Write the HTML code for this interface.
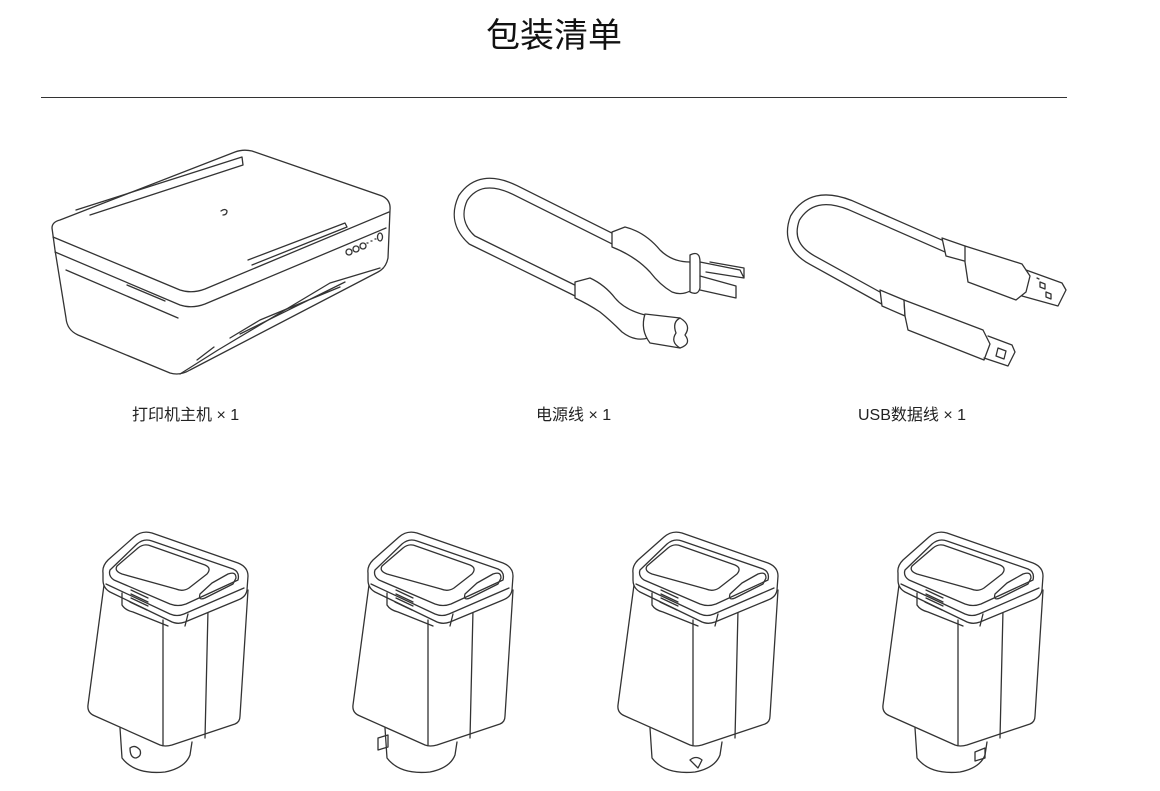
<!DOCTYPE html>
<html><head><meta charset="utf-8"><style>
html,body{margin:0;padding:0;background:#fff;}
body{width:1160px;height:791px;position:relative;overflow:hidden;font-family:"Liberation Sans","Noto Sans CJK SC",sans-serif;color:#222;}
.t{position:absolute;white-space:nowrap;}
</style></head><body>
<div class="t" style="left:0;width:1108px;top:8px;text-align:center;font-size:34px;font-weight:400;font-family:'Noto Sans CJK SC',sans-serif;color:#111;">包装清单</div>
<div style="position:absolute;left:41px;top:97px;width:1026px;height:1px;background:#333;"></div>
<div class="t" style="left:132px;top:401px;font-size:16px;">打印机主机 × 1</div>
<div class="t" style="left:536px;top:401px;font-size:16px;">电源线 × 1</div>
<div class="t" style="left:858px;top:401px;font-size:16px;">USB数据线 × 1</div>
<svg width="1160" height="791" style="position:absolute;left:0;top:0" fill="none" stroke="#333" stroke-width="1.3" stroke-linejoin="round" stroke-linecap="round">
<defs>
<g id="cart">
<path d="M104,585 L88,705 Q87,713 95,716 L160,745 Q165,747 172,745 L235,724 Q240,722 240,716 L248,590" fill="#fff"/>
<path d="M120,728 L122,758 Q135,775 165,772 Q185,768 190,755 L192,742"/>
<path d="M163,745 L163,620 M205,738 L208,610"/>
<path d="M103,573 Q102,566 108,560 L134,537 Q142,530 152,533 L238,563 Q248,567 248,576 L247,590 Q246,597 238,600 L185,622 Q177,625 170,621 L110,592 Q103,588 103,580 Z" fill="#fff"/>
<path d="M106,584 L170,614 Q177,617 184,614 L244,588"/>
<path d="M110,570 L137,544 Q144,538 152,541 L233,569 Q240,572 238,580 L186,604 Q178,607 170,604 L114,580 Q108,576 110,570 Z"/>
<path d="M117,566 L138,548 Q144,543 151,546 L205,565 Q212,568 207,574 L189,588 Q183,592 176,589 L122,574 Q114,571 117,566 Z"/>
<path d="M212,583 L228,574 Q236,571 236,578 L233,584 L205,598 Q198,601 200,594 Z"/>
<path d="M131,590 L148,598 M131,594 L148,602 M131,598 L148,606 M130,602 L147,610"/>
<path d="M122,593 L122,605 Q125,610 133,612 L168,626 M185,626 L188,614"/>
</g>
</defs>
<use href="#cart"/>
<use href="#cart" transform="translate(265,0)"/>
<use href="#cart" transform="translate(530,0)"/>
<use href="#cart" transform="translate(795,0)"/>
<path d="M130,748 q5,-4 10,2 q2,6 -4,8 q-6,0 -6,-10" />
<path d="M378,738 l10,-3 l0,12 l-10,3 z"/>
<path d="M690,760 q6,-5 12,0 l-4,8 z"/>
<path d="M975,752 l10,-4 l0,10 l-10,3 z"/>

<path d="M52,228 Q52,222 60,220 L235,152 Q243,149 252,151 L382,196 Q391,200 390,210 L388,258 Q386,268 378,272 L190,370 Q180,376 170,373 L78,335 Q67,330 66,318 L55,250 Z" fill="#fff"/>
<path d="M53,237 L180,290 Q192,294 205,289 L389,212"/>
<path d="M55,252 L180,305 Q192,309 205,304 L386,228"/>
<path d="M66,270 L178,318"/>
<path d="M76,210 L242,157 L243,165 L90,215"/>
<path d="M248,260 L345,223 L347,227 L252,265"/>
<path d="M127,285 L165,301"/>
<path d="M380,268 L330,283 L218,350 L180,374"/>
<path d="M340,287 L260,320 L230,338 M345,282 L240,334"/>
<path d="M197,360 L214,347"/>
<circle cx="349" cy="252" r="3"/><circle cx="356" cy="249" r="3"/><circle cx="363" cy="246" r="3"/>
<path d="M367,243 l1,0 M371,241 l1,0 M375,239 l1,0"/>
<ellipse cx="380" cy="237" rx="2.5" ry="4"/>
<path d="M221,211 q4,-3 6,0 q0,4 -4,4"/>

<path d="M615,240 L515,190 Q480,173 463,198 Q452,222 472,240 L578,292" stroke="#333" stroke-width="11"/>
<path d="M615,240 L515,190 Q480,173 463,198 Q452,222 472,240 L578,292" stroke="#fff" stroke-width="8.4"/>
<path d="M612,232 L625,227 Q645,232 660,250 Q672,262 690,262 L692,290 Q682,296 672,292 Q660,285 650,272 Q635,256 612,247 Z" fill="#fff"/>
<path d="M690,255 Q700,250 700,262 L700,288 Q698,296 690,292 Z" fill="#fff"/>
<path d="M700,262 L740,270 L744,278 L706,272 M700,276 L736,286 L736,298 L700,290 M744,278 L744,268 L710,262"/>
<path d="M575,282 L590,278 Q605,285 615,298 Q625,310 645,315 L648,338 Q635,342 622,332 Q610,320 600,312 Q588,304 575,298 Z" fill="#fff"/>
<path d="M645,314 L680,318 Q692,325 685,335 Q692,344 680,348 L650,343 Q640,330 645,314" fill="#fff"/>
<path d="M680,318 Q672,322 676,333 Q670,342 680,348"/>

<path d="M948,248 L850,205 Q812,190 795,218 Q785,245 812,260 L888,302" stroke="#333" stroke-width="11"/>
<path d="M948,248 L850,205 Q812,190 795,218 Q785,245 812,260 L888,302" stroke="#fff" stroke-width="8.4"/>
<path d="M942,238 L965,246 L968,262 L946,256 Z" fill="#fff"/>
<path d="M965,246 L1022,264 L1030,276 L1026,292 L1016,300 L968,282 L965,262 Z" fill="#fff"/>
<path d="M1026,270 L1062,283 L1066,290 L1058,306 L1022,296 M1040,282 l5,2 l0,5 l-5,-2z M1046,292 l5,2 l0,5 l-5,-2z M1037,278 l2,1"/>
<path d="M880,290 L904,300 L905,316 L882,306 Z" fill="#fff"/>
<path d="M904,300 L983,330 L990,344 L984,360 L908,330 L905,316 Z" fill="#fff"/>
<path d="M988,336 L1012,345 L1015,352 L1008,366 L984,358 M998,348 l8,3 l-2,8 l-8,-3 z"/>
</svg>
</body></html>
